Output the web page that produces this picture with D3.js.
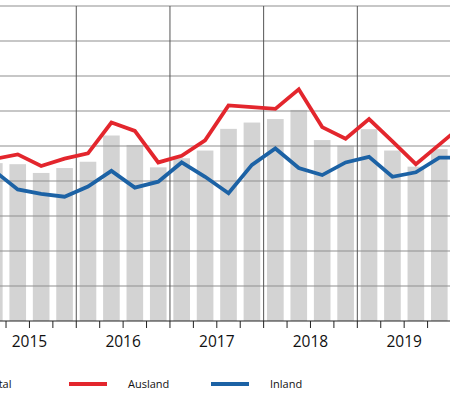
<!DOCTYPE html>
<html>
<head>
<meta charset="utf-8">
<script src="https://cdn.jsdelivr.net/npm/d3@7"></script>
<style>
  html, body { margin: 0; padding: 0; background: #fff; }
  svg { display: block; font-family: "Open Sans", sans-serif; }
</style>
</head>
<body>
<script>
// quarters 2015 Q1 .. 2020 Q1
const years = [2015, 2016, 2017, 2018, 2019, 2020];
const quarters = [];
years.forEach(y => [1, 2, 3, 4].forEach(q => { if (y < 2020 || q === 1) quarters.push(y + "Q" + q); }));

// values (no axis labels shown, arbitrary units 0..90)
const total   = [45.1, 44.8, 42.3, 43.7, 45.5, 53.0, 50.3, 43.9, 46.5, 48.7, 54.9, 56.7, 57.7, 60.3, 51.7, 50.1, 54.8, 48.7, 44.1, 49.1, 50.0];
const ausland = [46.3, 47.6, 44.3, 46.4, 47.9, 56.7, 54.3, 45.3, 47.2, 51.6, 61.6, 61.1, 60.6, 66.2, 55.4, 52.1, 57.7, 51.3, 44.8, 50.4, 56.0];
const inland  = [42.9, 37.6, 36.3, 35.5, 38.4, 42.9, 38.1, 39.8, 45.3, 41.2, 36.5, 44.6, 49.3, 43.7, 41.7, 45.3, 46.9, 41.2, 42.5, 46.7, 46.7];
const yTicks = [10, 20, 30, 40, 50, 60, 70, 80, 90];
const yearLabels = ["2015", "2016", "2017", "2018", "2019"];
const legendItems = [
  { name: "Total", type: "box", color: "#d3d3d3" },
  { name: "Ausland", type: "line", color: "#e3262d" },
  { name: "Inland", type: "line", color: "#1c62a5" }
];

const width = 450, height = 395;
const svg = d3.select("body").append("svg")
  .attr("width", width)
  .attr("height", height);

const step = 23.42;
const x = d3.scaleBand()
  .domain(quarters)
  .range([-17.4, -17.4 + step * quarters.length])
  .paddingInner(0.29)
  .paddingOuter(0.145);
const y = d3.scaleLinear().domain([0, 90]).range([321, 6]);
const bandStart = q => x(q) - x.step() * x.paddingOuter();
const cx = q => x(q) + x.bandwidth() / 2;

// bars
svg.append("g").selectAll("rect")
  .data(total)
  .join("rect")
  .attr("x", (d, i) => x(quarters[i]))
  .attr("y", d => y(d))
  .attr("width", x.bandwidth())
  .attr("height", d => y(0) - y(d))
  .attr("fill", "#d3d3d3");

// horizontal grid
svg.append("g").selectAll("line")
  .data(yTicks)
  .join("line")
  .attr("x1", 0).attr("x2", width)
  .attr("y1", d => y(d)).attr("y2", d => y(d))
  .attr("stroke", "#8f8f8f")
  .attr("stroke-width", 1.2);

// year separators
const yearStarts = quarters.filter(q => q.endsWith("Q1")).slice(1);
svg.append("g").selectAll("line")
  .data(yearStarts)
  .join("line")
  .attr("x1", d => bandStart(d)).attr("x2", d => bandStart(d))
  .attr("y1", y(90)).attr("y2", y(0))
  .attr("stroke", "#555")
  .attr("stroke-width", 1);

// x axis with quarter ticks
const axis = svg.append("g");
axis.append("line")
  .attr("x1", 0).attr("x2", width)
  .attr("y1", y(0)).attr("y2", y(0))
  .attr("stroke", "#222").attr("stroke-width", 1.2);
axis.selectAll("line.tick")
  .data(quarters)
  .join("line")
  .attr("class", "tick")
  .attr("x1", d => bandStart(d)).attr("x2", d => bandStart(d))
  .attr("y1", y(0)).attr("y2", y(0) + 7)
  .attr("stroke", "#222").attr("stroke-width", 1);
axis.selectAll("text")
  .data(yearLabels)
  .join("text")
  .attr("x", d => bandStart(d + "Q1") + x.step() * 2)
  .attr("y", 347)
  .attr("text-anchor", "middle")
  .attr("font-size", 15.5)
  .attr("fill", "#111")
  .text(d => d);

// lines
const line = d3.line()
  .x((d, i) => cx(quarters[i]))
  .y(d => y(d));
[[ausland, "#e3262d"], [inland, "#1c62a5"]].forEach(([vals, col]) => {
  svg.append("path")
    .datum(vals)
    .attr("d", line)
    .attr("fill", "none")
    .attr("stroke", col)
    .attr("stroke-width", 3.8)
    .attr("stroke-linejoin", "miter");
});

// legend
const legendX = [-60, 69, 211];
const lg = svg.append("g");
legendItems.forEach((it, i) => {
  const g = lg.append("g").attr("transform", `translate(${legendX[i]},384)`);
  if (it.type === "box") {
    g.append("rect").attr("x", 0).attr("y", -6).attr("width", 30).attr("height", 12).attr("fill", it.color);
  } else {
    g.append("line").attr("x1", 0).attr("x2", 38).attr("y1", 0).attr("y2", 0)
      .attr("stroke", it.color).attr("stroke-width", 3.8);
  }
  g.append("text")
    .attr("x", it.type === "box" ? 46 : 59)
    .attr("y", 4)
    .attr("font-size", 11)
    .attr("fill", "#111")
    .text(it.name);
});
</script>
</body>
</html>
